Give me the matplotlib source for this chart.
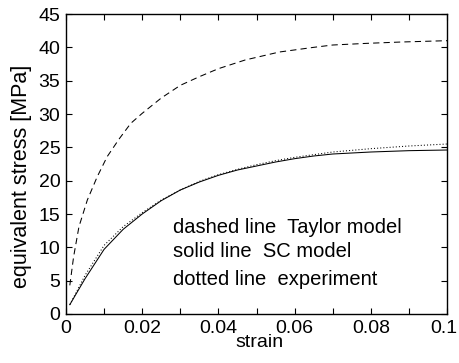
import numpy as np
import matplotlib
matplotlib.use("Agg")
import matplotlib.pyplot as plt
from matplotlib.transforms import ScaledTranslation

plt.rcParams['font.family'] = ['Liberation Sans', 'DejaVu Sans']

# Taylor model (dashed)
taylor_strain = [0.001, 0.002, 0.0034, 0.0056, 0.0082, 0.0108, 0.014, 0.017, 0.020,
                 0.025, 0.030, 0.035, 0.040, 0.047, 0.056, 0.065, 0.070, 0.079, 0.088, 0.100]
taylor_stress = [4.3, 8.6, 13.1, 17.1, 20.6, 23.6, 26.3, 28.6, 30.1,
                 32.4, 34.3, 35.6, 36.8, 38.1, 39.3, 40.0, 40.35, 40.6, 40.8, 41.0]

# SC model (solid)
sc_strain = [0.001, 0.005, 0.010, 0.015, 0.020, 0.025, 0.030, 0.035, 0.040, 0.045,
             0.050, 0.055, 0.060, 0.065, 0.070, 0.080, 0.090, 0.100]
sc_stress = [1.4, 5.3, 9.7, 12.7, 15.0, 17.0, 18.6, 19.8, 20.8, 21.6,
             22.2, 22.8, 23.3, 23.7, 24.0, 24.3, 24.5, 24.6]

# experiment (dotted)
exp_strain = [0.001, 0.005, 0.010, 0.015, 0.020, 0.025, 0.030, 0.035, 0.040, 0.045,
              0.050, 0.055, 0.060, 0.065, 0.070, 0.080, 0.090, 0.100]
exp_stress = [1.4, 5.8, 10.3, 13.1, 15.2, 17.1, 18.6, 19.9, 20.9, 21.7,
              22.4, 23.0, 23.5, 23.9, 24.3, 24.8, 25.2, 25.5]

notes = ["dashed line  Taylor model", "solid line  SC model", "dotted line  experiment"]
note_y = [13.0, 9.3, 5.1]

fig = plt.figure(figsize=(4.59, 3.63), dpi=100)
ax = fig.add_axes([0.1438, 0.135, 0.8301, 0.8264])

ax.plot(taylor_strain, taylor_stress, color='black', lw=0.75, linestyle=(0, (6, 4)))
ax.plot(sc_strain, sc_stress, color='black', lw=0.75)
ax.plot(exp_strain, exp_stress, color='black', lw=0.75, linestyle=(0, (1, 2)))

for t, y in zip(notes, note_y):
    ax.text(0.028, y, t, fontsize=14.5, va='center', ha='left')

ax.set_xlim(0, 0.1)
ax.set_ylim(0, 45)
xt = np.round(np.arange(0, 0.101, 0.01), 2)
ax.set_xticks(xt)
ax.set_xticklabels(["0" if v == 0 else ("0.1" if v == 0.1 else (f"{v:g}" if round(v * 100) % 2 == 0 else "")) for v in xt])
ax.set_yticks(np.arange(0, 46, 5))
ax.tick_params(direction='in', top=True, right=True, length=4, width=0.8, labelsize=14, pad=4)
for s in ax.spines.values():
    s.set_linewidth(1.0)

# nudge the last x label so it stays inside the figure
last = ax.get_xticklabels()[-1]
last.set_transform(last.get_transform() + ScaledTranslation(-2.5 / 72, 0, fig.dpi_scale_trans))

ax.set_xlabel("strain", fontsize=14, va='top')
ax.xaxis.set_label_coords(0.507, -0.068)
ax.set_ylabel("equivalent stress [MPa]", fontsize=15.5)
ax.yaxis.set_label_coords(-0.088, 0.46)

fig.savefig("out.png", dpi=100)
